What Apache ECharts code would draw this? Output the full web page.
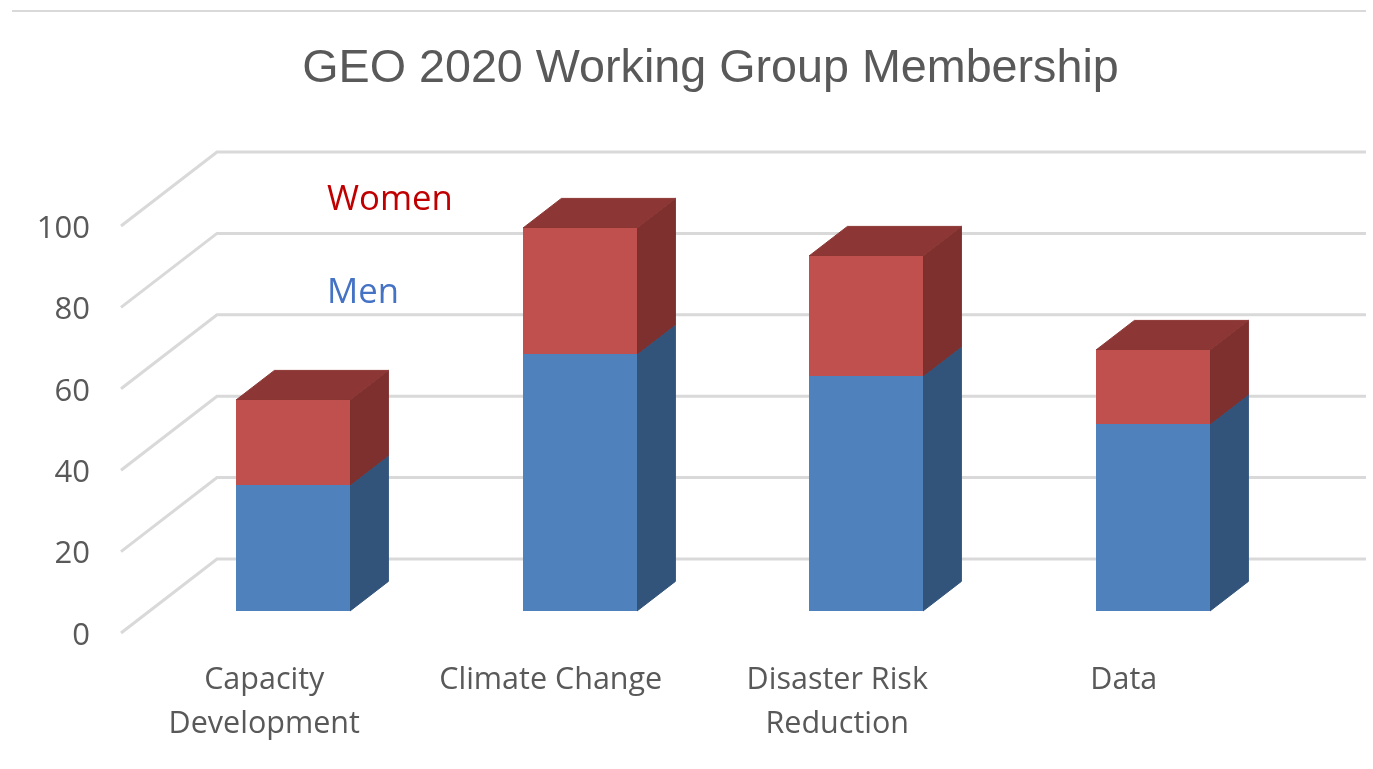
<!DOCTYPE html>
<html>
<head>
<meta charset="utf-8">
<title>GEO 2020 Working Group Membership</title>
<script src="https://cdn.jsdelivr.net/npm/echarts@6/dist/echarts.min.js"></script>
<style>
  html, body { margin: 0; padding: 0; background: #fff; }
  #chart { width: 1373px; height: 769px; }
</style>
</head>
<body>
<div id="chart"></div>
<script>
var categories = ['Capacity\nDevelopment', 'Climate Change', 'Disaster Risk\nReduction', 'Data'];
var men = [30.8, 63.0, 57.8, 45.9];
var women = [21.1, 31.0, 29.3, 18.1];
var yTicks = [0, 20, 40, 60, 80, 100];

// 3d look: depth of the floor in pixels, bars sit between 0.3 and 0.7 of it
var depthX = 96, depthY = -74;
var barFront = 0.3, barBack = 0.7;
var labelFont = '"Open Sans", sans-serif';

var myChart = echarts.init(document.getElementById('chart'));

function wallItem(params, api) {
  var cs = params.coordSys;
  var p = api.coord([0, api.value(0)]);
  return {
    type: 'polyline',
    silent: true,
    shape: { points: [
      [cs.x, p[1]],
      [cs.x + depthX, p[1] + depthY],
      [cs.x + cs.width + depthX + 3, p[1] + depthY]
    ] },
    style: { fill: 'none', stroke: '#d9d9d9', lineWidth: 3 }
  };
}

function barItem(colors) {
  return function (params, api) {
    var i = api.value(0);
    var base = api.coord([i, api.value(1)]);
    var top = api.coord([i, api.value(2)]);
    var w = Math.round(api.size([1, 0])[0] * 0.398);
    var x0 = Math.round(base[0] - w / 2 + depthX * barFront);
    var x1 = x0 + w;
    var yb = Math.round(base[1] + depthY * barFront);
    var yt = Math.round(top[1] + depthY * barFront);
    var dx = depthX * (barBack - barFront);
    var dy = depthY * (barBack - barFront);
    return {
      type: 'group',
      children: [
        { type: 'polygon', shape: { points: [[x1, yb], [x1 + dx, yb + dy], [x1 + dx, yt + dy], [x1, yt]] }, style: { fill: colors[1], stroke: colors[1], lineWidth: 1 } },
        { type: 'polygon', shape: { points: [[x0, yt], [x1, yt], [x1 + dx, yt + dy], [x0 + dx, yt + dy]] }, style: { fill: colors[2], stroke: colors[2], lineWidth: 1 } },
        { type: 'rect', shape: { x: x0, y: yt, width: w, height: yb - yt }, style: { fill: colors[0] } }
      ]
    };
  };
}

var menData = men.map(function (v, i) { return [i, 0, v]; });
var womenData = women.map(function (v, i) { return [i, men[i], men[i] + v]; });

var options = {
  backgroundColor: '#fff',
  animation: false,
  title: {
    text: 'GEO 2020 Working Group Membership',
    left: 705.5,
    top: 41,
    textAlign: 'center',
    textStyle: { fontFamily: '"Liberation Sans", Arial, sans-serif', fontSize: 46.7, fontWeight: 'normal', color: '#595959' }
  },
  grid: { left: 121, top: 226, width: 1146, height: 407 },
  xAxis: {
    type: 'category',
    data: categories,
    axisLine: { show: false },
    axisTick: { show: false },
    axisLabel: { interval: 0, margin: 25, fontFamily: labelFont, fontSize: 30.5, lineHeight: 44, color: '#595959' }
  },
  yAxis: {
    type: 'value',
    min: 0,
    max: 100,
    interval: 20,
    axisLine: { show: false },
    axisTick: { show: false },
    splitLine: { show: false },
    axisLabel: {
      margin: 31,
      formatter: '{a|{value}}',
      rich: { a: { padding: [6, 0, 0, 0], fontFamily: labelFont, fontSize: 31, color: '#595959' } }
    }
  },
  graphic: [
    { type: 'line', shape: { x1: 12, y1: 11, x2: 1366, y2: 11 }, style: { stroke: '#d9d9d9', lineWidth: 2 }, silent: true },
    { type: 'text', left: 327, top: 183, style: { text: 'Women', font: '34.7px ' + labelFont, fill: '#c00000' } },
    { type: 'text', left: 327, top: 276, style: { text: 'Men', font: '34.7px ' + labelFont, fill: '#4472c4' } }
  ],
  series: [
    { type: 'custom', name: 'grid', renderItem: wallItem, data: yTicks.map(function (v) { return [v]; }), encode: { y: 0 }, silent: true, z: 1 },
    { type: 'custom', name: 'Men', renderItem: barItem(['#4f81bd', '#32547b', '#3c6291']), data: menData, encode: { x: 0, y: 2 }, z: 2 },
    { type: 'custom', name: 'Women', renderItem: barItem(['#c0504d', '#7d302e', '#8c3735']), data: womenData, encode: { x: 0, y: 2 }, z: 3 }
  ]
};
myChart.setOption(options);
</script>
</body>
</html>
